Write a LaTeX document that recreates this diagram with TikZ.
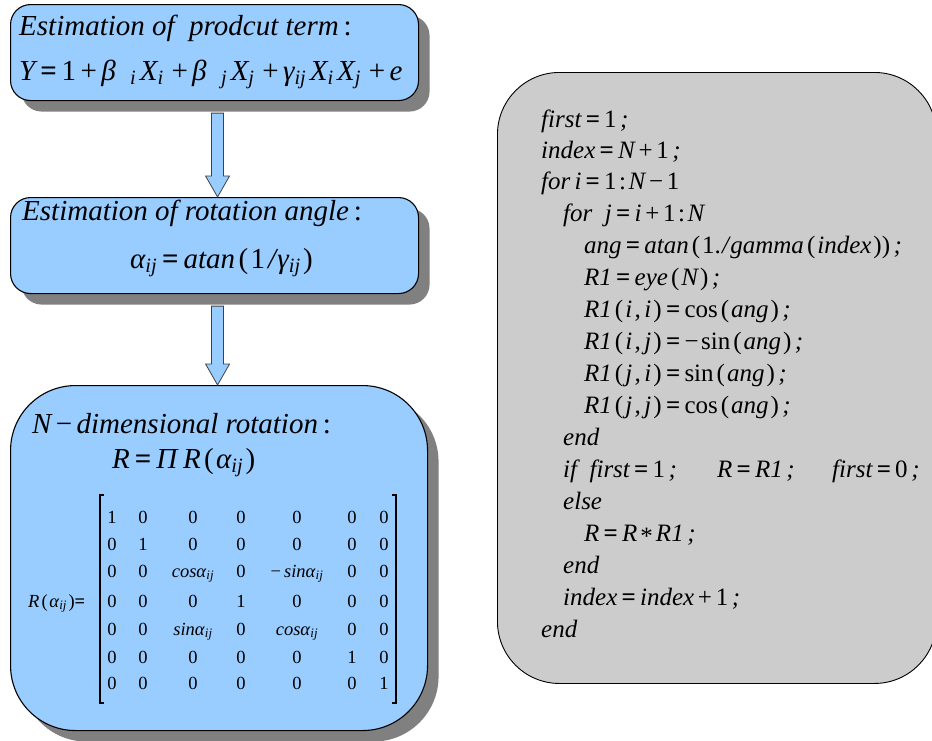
\documentclass[tikz,border=0pt]{standalone}
\usepackage{fontspec}
\setmainfont{Liberation Serif}
\usetikzlibrary{shadows,calc}
\definecolor{boxblue}{HTML}{99CCFF}
\definecolor{shadowgray}{HTML}{808080}
\definecolor{codegray}{HTML}{CCCCCC}
\newcommand\sbs[1]{\textsubscript{\itshape #1}\kern0.12em}
\newcommand\msb[1]{\textsubscript{\itshape #1}}
\newcommand\Eq{\kern0.17em\textup{\textbf{=}}\kern0.17em}
\newcommand\Pl{\kern0.15em\textup{+}\kern0.15em}
\newcommand\Mi{\kern0.15em\textup{−}\kern0.15em}
\newcommand\Lp{\kern0.12em\textup{(}\kern0.08em}
\newcommand\Rp{\kern0.08em\textup{)}}
\newcommand\Sc{\kern0.14em;}
\newcommand\Cm{\kern0.1em,\kern0.14em}
\newcommand\matrow[9]{%
  \node[mat] (m#1-1) at (112,#2) {#3};
  \node[mat] (m#1-2) at (143,#2) {#4};
  \node[mat] (m#1-3) at (193,#2) {#5};
  \node[mat] (m#1-4) at (241,#2) {#6};
  \node[mat] (m#1-5) at (297,#2) {#7};
  \node[mat] (m#1-6) at (352,#2) {#8};
  \node[mat] (m#1-7) at (384,#2) {#9};}
\begin{document}
\begin{tikzpicture}[x=1pt,y=-1pt,
  bluebox/.style={draw=black, line width=1.1pt, fill=boxblue, rounded corners=20pt,
    anchor=north west, inner sep=0pt,
    general shadow={fill=shadowgray, shadow xshift=11pt, shadow yshift=-11pt}},
  codebox/.style={draw=black, line width=0.9pt, fill=codegray, rounded corners=62pt,
    anchor=north west, inner sep=0pt},
  barrow/.style={fill=boxblue, draw=black!75, line width=0.8pt},
  big/.style={anchor=base west, inner sep=0pt, font=\fontsize{29}{32}\selectfont\itshape},
  mat/.style={anchor=base, inner sep=0pt, font=\fontsize{18.5}{20}\selectfont},
  code/.style={anchor=base west, inner sep=0pt, font=\fontsize{25}{27}\selectfont\itshape},
  brk/.style={line width=1.4pt}]
\useasboundingbox (0,0) rectangle (932,740);

% boxes
\node[bluebox, minimum width=408pt, minimum height=96pt] (b1) at (10,4) {};
\node[bluebox, minimum width=408pt, minimum height=96pt] (b2) at (10,197) {};
\node[bluebox, rounded corners=65pt, minimum width=417pt, minimum height=345pt] (b3) at (10,385) {};
\node[codebox, minimum width=439pt, minimum height=611pt] (code) at (497,72) {};

% block arrows
\coordinate (a1s) at ($(b1.south)+(3,12)$);
\coordinate (a1e) at (b2.north);
\draw[barrow] let \p1=(a1s), \p2=(a1e) in
  (\x1-6pt,\y1) -- (\x1+6pt,\y1) -- (\x1+6pt,\y2+21pt) -- (\x1+12pt,\y2+21pt)
  -- (\x1,\y2) -- (\x1-12pt,\y2+21pt) -- (\x1-6pt,\y2+21pt) -- cycle;
\coordinate (a2s) at ($(b2.south)+(3,12)$);
\coordinate (a2e) at (b3.north);
\draw[barrow] let \p1=(a2s), \p2=(a2e) in
  (\x1-6pt,\y1) -- (\x1+6pt,\y1) -- (\x1+6pt,\y2+21pt) -- (\x1+12pt,\y2+21pt)
  -- (\x1,\y2) -- (\x1-12pt,\y2+21pt) -- (\x1-6pt,\y2+21pt) -- cycle;

% box 1
\node[big] (t1a) at (19,35) {Estimation of\ \ prodcut term\,\textup{:}};
\node[big] (t1b) at (19,80) {Y\Eq\textup{1}\Pl β\hspace{0.5em}\sbs{i}X\sbs{i}\Pl β\hspace{0.5em}\sbs{j}X\sbs{j}\Pl γ\sbs{ij}X\sbs{i}X\sbs{j}\Pl e};
% box 2
\node[big] (t2a) at (22,220) {Estimation of rotation angle\,\textup{:}};
\node[big] (t2b) at (130,268) {α\msb{ij}\Eq atan\Lp\textup{1}\kern0.1em/\kern0.05em γ\msb{ij}\Rp};
% box 3
\node[big] (t3a) at (32,433) {N\Mi dimensional rotation\,\textup{:}};
\node[big] (t3b) at (112,468) {R\Eq Π\kern0.2em R\Lp α\msb{ij}\Rp};
\node[anchor=base west, inner sep=0pt, font=\fontsize{18.5}{20}\selectfont] (rl) at (28,607)
  {\textit{R}\Lp\textit{α}\msb{ij}\Rp\textbf{=}};
\draw[brk] (104,495) -- (100,495) -- (100,703) -- (104,703);
\draw[brk] (392,495) -- (396,495) -- (396,703) -- (392,703);
\matrow{1}{523}{1}{0}{0}{0}{0}{0}{0}
\matrow{2}{550}{0}{1}{0}{0}{0}{0}{0}
\matrow{3}{577}{0}{0}{\textit{cosα}\msb{ij}}{0}{−\,\textit{sinα}\msb{ij}}{0}{0}
\matrow{4}{607}{0}{0}{0}{1}{0}{0}{0}
\matrow{5}{635}{0}{0}{\textit{sinα}\msb{ij}}{0}{\textit{cosα}\msb{ij}}{0}{0}
\matrow{6}{663}{0}{0}{0}{0}{0}{1}{0}
\matrow{7}{689}{0}{0}{0}{0}{0}{0}{1}

% code
\node[code] (c1) at (541,127) {first\Eq\textup{1}\Sc};
\node[code] (c2) at (541,158) {index\Eq N\Pl\textup{1}\Sc};
\node[code] (c3) at (541,189) {for\,i\Eq\textup{1\kern0.1em:\kern0.1em}N\Mi\textup{1}};
\node[code] (c4) at (563,221) {for\ \ j\Eq i\Pl\textup{1\kern0.1em:\kern0.1em}N};
\node[code] (c5) at (584,253) {ang\Eq atan\Lp\textup{1.}\kern0.05em/\kern0.05em gamma\Lp index\Rp\textup{)}\Sc};
\node[code] (c6) at (584,285) {R1\Eq eye\Lp N\Rp\Sc};
\node[code] (c7) at (584,317) {R1\Lp i\Cm i\Rp\Eq\textup{cos}\Lp ang\Rp\Sc};
\node[code] (c8) at (584,349) {R1\Lp i\Cm j\Rp\Eq\textup{−\kern0.1em sin}\Lp ang\Rp\Sc};
\node[code] (c9) at (584,381) {R1\Lp j\Cm i\Rp\Eq\textup{sin}\Lp ang\Rp\Sc};
\node[code] (c10) at (584,413) {R1\Lp j\Cm j\Rp\Eq\textup{cos}\Lp ang\Rp\Sc};
\node[code] (c11) at (563,445) {end};
\node[code] (c12a) at (563,477) {if\ \ first\Eq\textup{1}\Sc};
\node[code] (c12b) at (717,477) {R\Eq R1\Sc};
\node[code] (c12c) at (832,477) {first\Eq\textup{0}\Sc};
\node[code] (c13) at (563,509) {else};
\node[code] (c14) at (584,541) {R\Eq R\kern0.12em\raisebox{-0.3ex}{\textup{*}}\kern0.12em R1\Sc};
\node[code] (c15) at (563,573) {end};
\node[code] (c16) at (563,605) {index\Eq index\Pl\textup{1}\Sc};
\node[code] (c17) at (541,637) {end};
\end{tikzpicture}
\end{document}
